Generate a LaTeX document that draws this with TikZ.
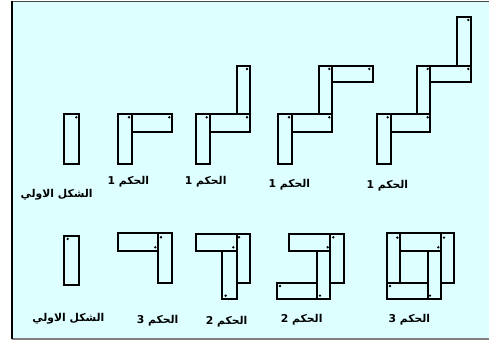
\documentclass[tikz,border=0pt]{standalone}
\usepackage{fontspec}
\TeXXeTstate=1
\newfontfamily\arabicfont[Script=Arabic]{DejaVu Sans}
\definecolor{bgcyan}{RGB}{222,255,255}
\definecolor{topgray}{RGB}{70,70,70}
\tikzset{
  piece/.style={draw=black,line width=1.9pt},
  pin/.style={fill=black},
  lbl/.style={font=\arabicfont\bfseries\fontsize{10.8}{13}\selectfont,inner sep=0pt,text=black}
}
\newcommand{\pindot}[1]{\fill[pin] #1 circle[radius=4];}
\begin{document}
\begin{tikzpicture}[x=0.33333pt,y=-0.33333pt]
\useasboundingbox (0,0) rectangle (1467,1020);
% background frame
\fill[white] (0,0) rectangle (1467,1020);
\fill[bgcyan] (36,5) rectangle (1467,1016);
\draw[topgray,line width=1.6pt] (36,4) -- (1467,4);
\draw[gray,line width=1.4pt] (36,1017) -- (1467,1017);
\draw[black,line width=2.4pt] (36,3) -- (36,1018);
% ---------- Row 1 ----------
\draw[piece] (193,343) rectangle (237,493);
\pindot{(229,352)}
\draw[piece] (355,343) rectangle (397,493);
\draw[piece] (397,343) rectangle (517,395);
\pindot{(387,352)} \pindot{(508,352)}
\draw[piece] (588,343) rectangle (630,493);
\draw[piece] (630,343) rectangle (750,395);
\draw[piece] (710,197) rectangle (750,343);
\pindot{(620,352)} \pindot{(741,352)} \pindot{(741,207)}
\draw[piece] (835,343) rectangle (877,493);
\draw[piece] (877,343) rectangle (997,395);
\draw[piece] (957,197) rectangle (997,343);
\draw[piece] (997,197) rectangle (1118,247);
\pindot{(867,352)} \pindot{(988,352)} \pindot{(988,207)} \pindot{(1108,207)}
\draw[piece] (1130,343) rectangle (1172,493);
\draw[piece] (1172,343) rectangle (1290,395);
\draw[piece] (1250,197) rectangle (1290,343);
\draw[piece] (1290,197) rectangle (1413,247);
\draw[piece] (1372,50) rectangle (1413,197);
\pindot{(1163,352)} \pindot{(1283,352)} \pindot{(1283,207)} \pindot{(1405,207)} \pindot{(1405,60)}
% ---------- Row 2 ----------
\draw[piece] (193,707) rectangle (237,855);
\pindot{(203,717)}
\draw[piece] (353,700) rectangle (475,752);
\draw[piece] (475,700) rectangle (517,850);
\pindot{(483,712)} \pindot{(466,742)}
\draw[piece] (587,703) rectangle (710,752);
\draw[piece] (710,703) rectangle (750,850);
\draw[piece] (667,752) rectangle (710,898);
\pindot{(717,712)} \pindot{(700,742)} \pindot{(677,887)}
\draw[piece] (868,703) rectangle (990,752);
\draw[piece] (990,703) rectangle (1033,850);
\draw[piece] (950,752) rectangle (990,898);
\draw[piece] (830,848) rectangle (950,898);
\pindot{(1000,712)} \pindot{(983,742)} \pindot{(960,887)} \pindot{(840,858)}
\draw[piece] (1160,700) rectangle (1200,850);
\draw[piece] (1200,700) rectangle (1323,752);
\draw[piece] (1323,700) rectangle (1363,850);
\draw[piece] (1283,752) rectangle (1323,898);
\draw[piece] (1160,850) rectangle (1283,898);
\pindot{(1192,713)} \pindot{(1332,713)} \pindot{(1315,742)} \pindot{(1170,858)} \pindot{(1290,887)}
% ---------- Labels ----------
\node[lbl] (l0) at (170,583) {\beginR الشكل الاولي\endR};
\node[lbl] (l1) at (385,545) {\beginR الحكم 1\endR};
\node[lbl] (l2) at (617,545) {\beginR الحكم 1\endR};
\node[lbl] (l3) at (868,553) {\beginR الحكم 1\endR};
\node[lbl] (l4) at (1162,557) {\beginR الحكم 1\endR};
\node[lbl] (m0) at (205,955) {\beginR الشكل الاولي\endR};
\node[lbl] (m1) at (473,962) {\beginR الحكم 3\endR};
\node[lbl] (m2) at (680,965) {\beginR الحكم 2\endR};
\node[lbl] (m3) at (905,960) {\beginR الحكم 2\endR};
\node[lbl] (m4) at (1228,960) {\beginR الحكم 3\endR};
\end{tikzpicture}
\end{document}
